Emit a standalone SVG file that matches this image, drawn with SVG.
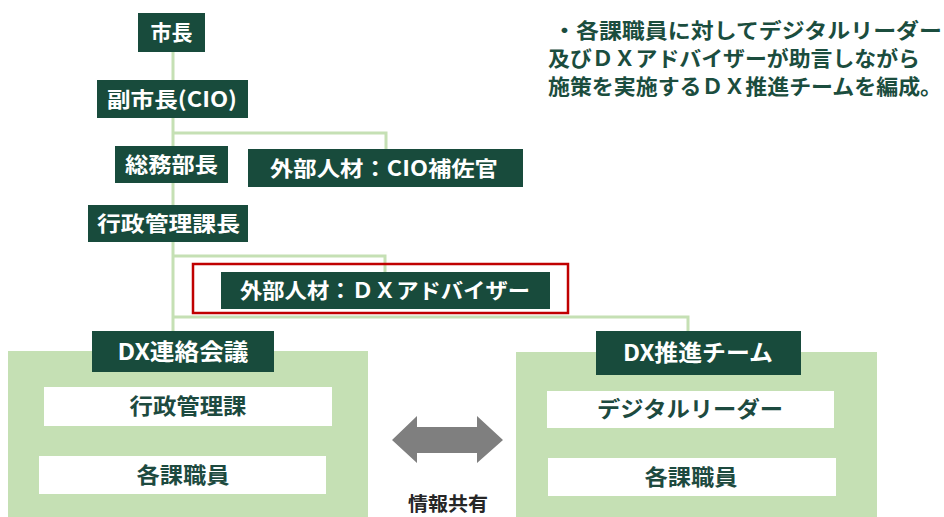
<svg xmlns="http://www.w3.org/2000/svg" width="944" height="517" viewBox="0 0 944 517">
<style>
.dk{fill:#184b3c}
.pn{fill:#c5e0b4}
.wb{fill:#ffffff}
.lbl{font-family:"Noto Sans CJK JP","Noto Sans",sans-serif;font-size:21px;font-weight:bold;fill:#ffffff;text-anchor:middle}
.big{font-size:23px}
.ptx{font-family:"Noto Sans CJK JP","Noto Sans",sans-serif;font-size:22px;font-weight:bold;fill:#1d4a3f;text-anchor:middle}
.note{font-family:"Noto Sans CJK JP","Noto Sans",sans-serif;font-size:21px;font-weight:bold;fill:#1b4d3e}
.cn{fill:none;stroke:#c5e0b4;stroke-width:3}
</style>
<g id="connectors">
<path class="cn" d="M173,52 V331"/>
<path class="cn" d="M173,133 H386 V149"/>
<path class="cn" d="M173,256 H385 V272"/>
<path class="cn" d="M173,317 H688 V331"/>
</g>
<g id="n-mayor"><rect class="dk" x="138" y="13" width="67" height="39"/><text class="lbl" x="171.5" y="40">市長</text></g>
<g id="n-vicemayor"><rect class="dk" x="97" y="80" width="151" height="38"/><text class="lbl" x="172" y="107" textLength="130" lengthAdjust="spacingAndGlyphs">副市長(CIO)</text></g>
<g id="n-soumu"><rect class="dk" x="115" y="146" width="113" height="37"/><text class="lbl" x="171.5" y="172" textLength="93" lengthAdjust="spacingAndGlyphs">総務部長</text></g>
<g id="n-cioassist"><rect class="dk" x="248" y="149" width="275" height="38"/><text class="lbl" x="384" y="176" textLength="228" lengthAdjust="spacingAndGlyphs">外部人材：CIO補佐官</text></g>
<g id="n-gyousei"><rect class="dk" x="88" y="205" width="160" height="37"/><text class="lbl" x="168.5" y="231" textLength="143" lengthAdjust="spacingAndGlyphs">行政管理課長</text></g>
<g id="n-dxadvisor">
<rect x="193" y="264" width="375" height="49" fill="none" stroke="#c00000" stroke-width="2.5"/>
<rect class="dk" x="221" y="272" width="329" height="37"/>
<text class="lbl" x="385" y="298" textLength="290" lengthAdjust="spacingAndGlyphs">外部人材：ＤＸアドバイザー</text>
</g>
<g id="n-renraku">
<rect class="pn" x="8" y="351" width="360" height="166"/>
<rect class="dk" x="92" y="331" width="182" height="41"/>
<text class="lbl big" x="183" y="360" textLength="131" lengthAdjust="spacingAndGlyphs">DX連絡会議</text>
<rect class="wb" x="44" y="387" width="288" height="39"/>
<text class="ptx" x="188" y="414" textLength="117" lengthAdjust="spacingAndGlyphs">行政管理課</text>
<rect class="wb" x="39" y="456" width="287" height="38"/>
<text class="ptx" x="183" y="483" textLength="93" lengthAdjust="spacingAndGlyphs">各課職員</text>
</g>
<g id="n-suishin">
<rect class="pn" x="516" y="352" width="361" height="165"/>
<rect class="dk" x="596" y="331" width="205" height="44"/>
<text class="lbl big" x="698" y="361" textLength="150" lengthAdjust="spacingAndGlyphs">DX推進チーム</text>
<rect class="wb" x="547" y="391" width="287" height="37"/>
<text class="ptx" x="690" y="417" textLength="186" lengthAdjust="spacingAndGlyphs">デジタルリーダー</text>
<rect class="wb" x="548" y="458" width="288" height="38"/>
<text class="ptx" x="691" y="485" textLength="93" lengthAdjust="spacingAndGlyphs">各課職員</text>
</g>
<g id="share">
<polygon points="392,440 417,416 417,427 477,427 477,416 503,440 477,463 477,453 417,453 417,463" fill="#7f7f7f"/>
<text x="448" y="511" font-family="'Noto Sans CJK JP','Noto Sans',sans-serif" font-size="19" font-weight="bold" fill="#262626" text-anchor="middle" textLength="80" lengthAdjust="spacingAndGlyphs">情報共有</text>
</g>
<g id="note">
<text class="note" x="553" y="38" textLength="389" lengthAdjust="spacingAndGlyphs">・各課職員に対してデジタルリーダー</text>
<text class="note" x="548" y="66" textLength="372" lengthAdjust="spacingAndGlyphs">及びＤＸアドバイザーが助言しながら</text>
<text class="note" x="548" y="94" textLength="394" lengthAdjust="spacingAndGlyphs">施策を実施するＤＸ推進チームを編成。</text>
</g>
</svg>
